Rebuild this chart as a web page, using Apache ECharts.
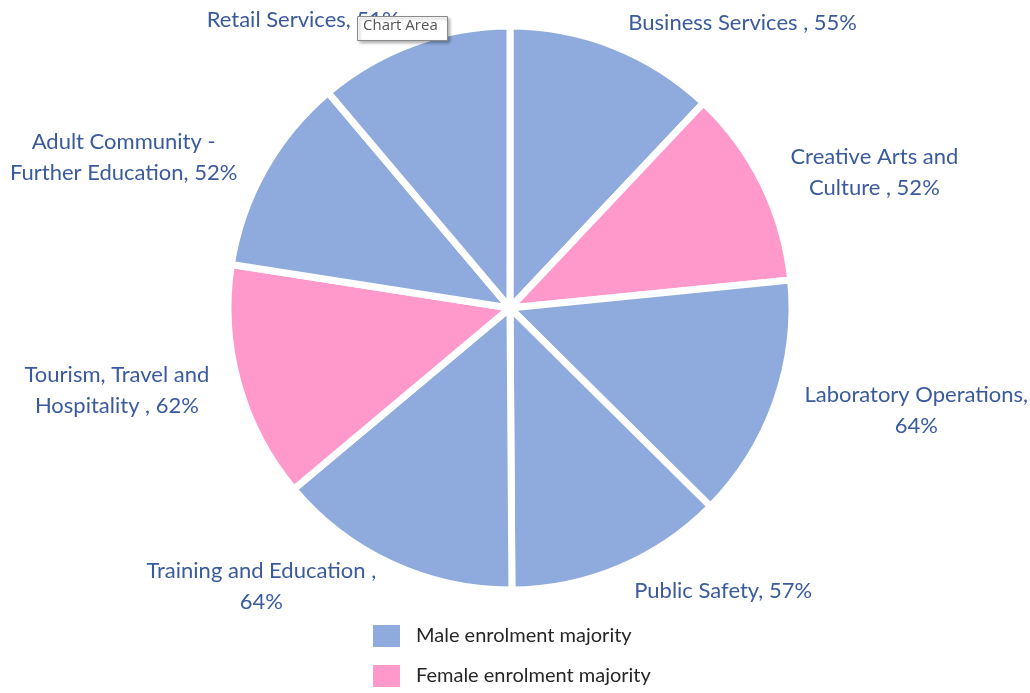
<!DOCTYPE html>
<html>
<head>
<meta charset="utf-8">
<title>Enrolment by industry</title>
<script src="https://cdn.jsdelivr.net/npm/echarts@6/dist/echarts.min.js"></script>
<style>
    html, body { margin: 0; padding: 0; background: #fff; }
    .pie { width: 1030px; height: 693px; }
</style>
</head>
<body>
<div class="pie"></div>
<script>
// 行业 / enrolment share by majority gender
var categories = [
    "Business Services",
    "Creative Arts and Culture",
    "Laboratory Operations",
    "Public Safety",
    "Training and Education",
    "Tourism, Travel and Hospitality",
    "Adult Community - Further Education",
    "Retail Services"
];
var labelText = [
    "Business Services , 55%",
    "Creative Arts and\nCulture , 52%",
    "Laboratory Operations,\n64%",
    "Public Safety, 57%",
    "Training and Education ,\n64%",
    "Tourism, Travel and\nHospitality , 62%",
    "Adult Community -\nFurther Education, 52%",
    "Retail Services, 51%"
];
var values = [55, 52, 64, 57, 64, 62, 52, 51];
// 0 = male majority, 1 = female majority
var majority = [0, 1, 0, 0, 0, 1, 0, 0];
var legendNames = ["Male enrolment majority", "Female enrolment majority"];

(function () {
    var myChart = echarts.init(document.querySelector(".pie"));

    var colors = ["#8FAADC", "#FF99CC"];
    var labelColor = "#3A5A9E";

    var pieData = [];
    categories.forEach(function (name, i) {
        pieData.push({
            name: name,
            value: values[i],
            itemStyle: { color: colors[majority[i]] }
        });
    });

    var option = {
        backgroundColor: "#fff",
        animation: false,
        legend: {
            data: legendNames,
            orient: "vertical",
            left: 373,
            top: 625,
            padding: 0,
            itemWidth: 27,
            itemHeight: 22,
            itemGap: 18,
            icon: "rect",
            selectedMode: false,
            textStyle: {
                fontFamily: "Lato",
                fontSize: 20,
                color: "#262626",
                padding: [0, 0, 0, 11]
            }
        },
        // 截图里的 "Chart Area" 提示框
        graphic: [{
            type: "rect",
            left: 357,
            top: 16,
            z: 100,
            shape: { width: 90, height: 24 },
            style: {
                fill: "#fff",
                stroke: "#8a8a8a",
                lineWidth: 1,
                shadowColor: "rgba(0,0,0,0.3)",
                shadowBlur: 3,
                shadowOffsetX: 2,
                shadowOffsetY: 2
            }
        }, {
            type: "text",
            left: 363,
            top: 18,
            z: 101,
            style: {
                text: "Chart Area",
                fontFamily: "Open Sans",
                fontSize: 15,
                fill: "#555"
            }
        }],
        series: [{
            name: "enrolment",
            type: "pie",
            center: [510, 308],
            radius: 282,
            startAngle: 90,
            clockwise: true,
            avoidLabelOverlap: false,
            silent: true,
            itemStyle: {
                borderColor: "#fff",
                borderWidth: 7
            },
            label: {
                show: true,
                position: "outside",
                formatter: function (params) {
                    return labelText[params.dataIndex];
                },
                fontFamily: "Lato",
                fontSize: 22,
                lineHeight: 31,
                color: labelColor
            },
            labelLine: {
                show: false,
                length: 25,
                length2: 0
            },
            labelLayout: function (params) {
                return {
                    x: params.labelRect.x + params.labelRect.width / 2,
                    align: "center"
                };
            },
            data: pieData
        }, {
            // 只为图例
            name: "legend",
            type: "pie",
            center: [510, 308],
            radius: 0,
            silent: true,
            label: { show: false },
            labelLine: { show: false },
            data: legendNames.map(function (n, i) {
                return { name: n, value: 0, itemStyle: { color: colors[i] } };
            })
        }]
    };

    myChart.setOption(option);
    window.addEventListener("resize", function () {
        myChart.resize();
    });
})();
</script>
</body>
</html>
